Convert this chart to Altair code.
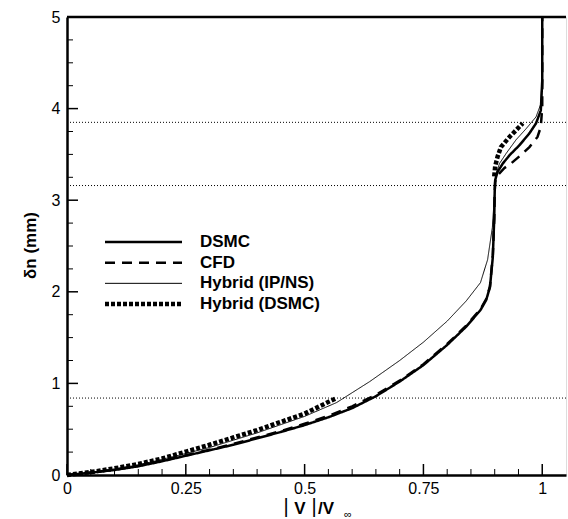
import altair as alt
import pandas as pd

W, H = 499, 458
FONT = "Liberation Sans"

series_names = ["DSMC", "CFD", "Hybrid (IP/NS)", "Hybrid (DSMC)"]

dsmc_x = [0, 0.05, 0.1, 0.15, 0.2, 0.25, 0.3, 0.35, 0.4, 0.45, 0.5, 0.55, 0.6, 0.65, 0.7,
          0.75, 0.8, 0.84, 0.87, 0.882, 0.89, 0.896, 0.899, 0.9, 0.901, 0.906, 0.917, 0.931,
          0.952, 0.973, 0.987, 0.997, 1.0, 1.0]
dsmc_y = [0, 0.025, 0.055, 0.095, 0.15, 0.21, 0.27, 0.33, 0.40, 0.47, 0.545, 0.63, 0.73,
          0.86, 1.02, 1.2, 1.42, 1.62, 1.8, 1.91, 2.05, 2.38, 2.8, 3.1, 3.22, 3.31, 3.40,
          3.49, 3.60, 3.73, 3.84, 3.98, 4.3, 5.0]

cfd_x = [0, 0.05, 0.1, 0.15, 0.2, 0.25, 0.3, 0.35, 0.4, 0.45, 0.5, 0.55, 0.6, 0.65, 0.7,
         0.75, 0.8, 0.84, 0.87, 0.882, 0.89, 0.896, 0.899, 0.9, 0.901, 0.906, 0.92, 0.934,
         0.959, 0.973, 0.99, 0.997, 1.0, 1.0]
cfd_y = [0, 0.027, 0.058, 0.1, 0.155, 0.215, 0.275, 0.34, 0.41, 0.48, 0.56, 0.645, 0.75,
         0.875, 1.03, 1.21, 1.43, 1.63, 1.81, 1.92, 2.06, 2.4, 2.8, 3.1, 3.20, 3.27, 3.35,
         3.40, 3.51, 3.58, 3.69, 3.80, 4.02, 5.0]

ipns_x = [0, 0.05, 0.1, 0.15, 0.2, 0.25, 0.3, 0.35, 0.4, 0.45, 0.5, 0.567, 0.637, 0.7,
          0.75, 0.8, 0.84, 0.87, 0.885, 0.895, 0.9, 0.903, 0.91, 0.924, 0.945, 0.966,
          0.987, 0.997, 1.0, 1.0]
ipns_y = [0, 0.03, 0.065, 0.11, 0.17, 0.235, 0.30, 0.38, 0.46, 0.55, 0.64, 0.79, 1.02,
          1.25, 1.45, 1.68, 1.9, 2.1, 2.35, 2.7, 3.1, 3.29, 3.40, 3.51, 3.66, 3.78, 3.91,
          4.05, 4.4, 5.0]

hyb1_x = [0, 0.05, 0.1, 0.15, 0.2, 0.25, 0.3, 0.35, 0.4, 0.45, 0.5, 0.567]
hyb1_y = [0, 0.032, 0.073, 0.12, 0.18, 0.255, 0.33, 0.41, 0.49, 0.58, 0.67, 0.84]
hyb2_x = [0.899, 0.901, 0.906, 0.913, 0.931, 0.959]
hyb2_y = [3.26, 3.37, 3.475, 3.58, 3.69, 3.84]

ref_levels = [3.85, 3.16, 0.84]

x_major = [0, 0.25, 0.5, 0.75, 1.0]
x_minor = [0.05, 0.1, 0.15, 0.2, 0.3, 0.35, 0.4, 0.45, 0.55, 0.6, 0.65, 0.7, 0.8, 0.85, 0.9, 0.95]
y_major = [0, 1, 2, 3, 4, 5]
y_minor = [0.25, 0.5, 0.75, 1.25, 1.5, 1.75, 2.25, 2.5, 2.75, 3.25, 3.5, 3.75, 4.25, 4.5, 4.75]

rows = []
for name, seg, xs, ys in [("DSMC", "a", dsmc_x, dsmc_y), ("CFD", "a", cfd_x, cfd_y),
                          ("Hybrid (IP/NS)", "a", ipns_x, ipns_y),
                          ("Hybrid (DSMC)", "a", hyb1_x, hyb1_y),
                          ("Hybrid (DSMC)", "b", hyb2_x, hyb2_y)]:
    for i, (xv, yv) in enumerate(zip(xs, ys)):
        rows.append({"name": name, "seg": name + seg, "i": i, "x": xv, "y": yv})
df = pd.DataFrame(rows)

xscale = alt.Scale(domain=[0, 1.05], nice=False, zero=False)
yscale = alt.Scale(domain=[0, 5], nice=False, zero=False)
dash_scale = alt.Scale(type="ordinal", domain=series_names, range=[[1, 0], [10, 7], [1, 0], [4, 2]])
width_scale = alt.Scale(type="ordinal", domain=series_names, range=[2.5, 2.5, 1.0, 4.5])

x_axis = alt.Axis(values=x_major, labelExpr="'' + datum.value", ticks=False, grid=False, title=None,
                  labelFontSize=16, labelPadding=5, labelFlush=False,
                  domainWidth=2.5, domainColor="black", labelColor="black",
                  labelFont=FONT)
y_axis = alt.Axis(values=y_major, ticks=False, grid=False, title="δn (mm)",
                  labelFontSize=16, labelPadding=7, labelFont=FONT,
                  domainWidth=2.5, domainColor="black", labelColor="black",
                  titleFont=FONT, titleFontSize=17, titleFontWeight="bold",
                  titleAngle=270, titleX=-37, titleY=228, titleAlign="center",
                  titleBaseline="middle", titleColor="black")

lines = alt.Chart(df).mark_line(color="black", strokeCap="butt").encode(
    x=alt.X("x:Q", scale=xscale, axis=x_axis),
    y=alt.Y("y:Q", scale=yscale, axis=y_axis),
    detail="seg:N",
    order="i:Q",
    strokeDash=alt.StrokeDash("name:N", scale=dash_scale, legend=None),
    strokeWidth=alt.StrokeWidth("name:N", scale=width_scale, legend=None),
)

refs = alt.Chart(pd.DataFrame({"v": ref_levels})).mark_rule(
    color="black", strokeWidth=1, strokeDash=[1, 2]).encode(
    y=alt.Y("v:Q", scale=yscale, axis=y_axis))

xt_major = alt.Chart(pd.DataFrame({"t": x_major})).mark_rule(color="black", strokeWidth=1.5).encode(
    x=alt.X("t:Q", scale=xscale, axis=x_axis), y=alt.value(H), y2=alt.value(H - 11))
xt_minor = alt.Chart(pd.DataFrame({"t": x_minor})).mark_rule(color="black", strokeWidth=1).encode(
    x=alt.X("t:Q", scale=xscale, axis=x_axis), y=alt.value(H), y2=alt.value(H - 6))
yt_major = alt.Chart(pd.DataFrame({"t": y_major})).mark_rule(color="black", strokeWidth=1.5).encode(
    y=alt.Y("t:Q", scale=yscale, axis=y_axis), x=alt.value(0), x2=alt.value(11))
yt_minor = alt.Chart(pd.DataFrame({"t": y_minor})).mark_rule(color="black", strokeWidth=1).encode(
    y=alt.Y("t:Q", scale=yscale, axis=y_axis), x=alt.value(0), x2=alt.value(6))

top_border = alt.Chart(pd.DataFrame({"a": [0]})).mark_rule(color="black", strokeWidth=2.5).encode(
    x=alt.value(0), x2=alt.value(W), y=alt.value(0))

# x-axis title |V|/V∞ built from pieces
title_text = ["|", "V", "|", "/V", "∞"]


def piece(i, px, py, size, weight, align):
    return alt.Chart(pd.DataFrame({"t": [title_text[i]]})).mark_text(
        font=FONT, fontSize=size, fontWeight=weight, align=align,
        baseline="alphabetic", color="black").encode(
        x=alt.value(px), y=alt.value(py), text="t:N")


pieces = [piece(0, 219, 496, 20, "normal", "center"),
          piece(1, 233, 497, 17, "bold", "center"),
          piece(2, 247, 496, 20, "normal", "center"),
          piece(3, 251, 497, 17, "bold", "left"),
          piece(4, 277, 501, 11, "normal", "left")]

main = alt.layer(lines, refs, xt_major, xt_minor, yt_major, yt_minor, top_border, *pieces)

# legend
leg_df = pd.DataFrame({"name": series_names})
leg_y = alt.Y("name:N", scale=alt.Scale(type="point", domain=series_names, range=[225, 287], padding=0), axis=None)
leg_lines = alt.Chart(leg_df).mark_rule(color="black", strokeCap="butt").encode(
    y=leg_y, x=alt.value(38), x2=alt.value(115),
    strokeDash=alt.StrokeDash("name:N", scale=dash_scale, legend=None),
    strokeWidth=alt.StrokeWidth("name:N", scale=width_scale, legend=None),
)
leg_text = alt.Chart(leg_df).mark_text(font=FONT, fontSize=17, fontWeight="bold", align="left",
                                        baseline="middle", color="black").encode(
    y=leg_y, x=alt.value(133), text="name:N")
legend = alt.layer(leg_lines, leg_text)

chart = alt.layer(main, legend).resolve_scale(y="independent").properties(
    width=W, height=H,
    autosize=alt.AutoSizeParams(type="none"),
    padding={"left": 67, "top": 17, "right": 2, "bottom": 44},
    background="white",
).configure_view(stroke="black", strokeWidth=1).configure(font=FONT)

chart.save("out.html", embed_options={"renderer": "svg", "actions": False})
